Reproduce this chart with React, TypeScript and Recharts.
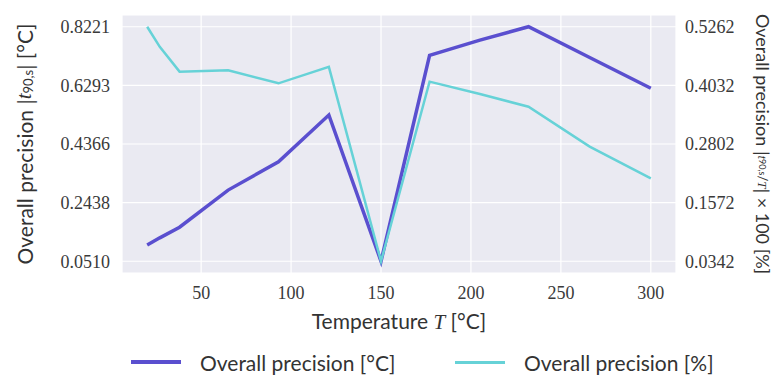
import { LineChart, Line, XAxis, YAxis, CartesianGrid, Label } from "recharts";

document.body.style.margin = "0";

// temperatures [°C]
const temps = [20, 27, 38, 65, 93, 121, 150, 177, 205, 232, 266, 300];
// overall precision [°C]
const precisionC = [0.1045, 0.128, 0.163, 0.285, 0.378, 0.532, 0.051, 0.728, 0.778, 0.8221, 0.721, 0.62];
// overall precision [%]
const precisionPct = [0.5262, 0.484, 0.432, 0.435, 0.4075, 0.442, 0.0342, 0.411, 0.385, 0.3585, 0.2746, 0.2082];

const xTicks = [50, 100, 150, 200, 250, 300];
const leftTicks = [0.051, 0.2438, 0.4366, 0.6293, 0.8221];
const rightTicks = [0.0342, 0.1572, 0.2802, 0.4032, 0.5262];

const PURPLE = "#5a4fcf";
const CYAN = "#66d2d7";
const TICK_FONT = { fontFamily: "Liberation Serif", fontSize: 18, fill: "#3a3a3a" };
const LABEL_FONT = "Lato";
const LABEL_SIZE = 21;

const data = temps.map((t, i) => ({
  t,
  degC: precisionC[i],
  pct: precisionPct[i],
}));

function XLabel({ viewBox }: any) {
  const cx = viewBox.x + viewBox.width / 2;
  return (
    <text x={cx} y={viewBox.y + 56} textAnchor="middle" fontFamily={LABEL_FONT} fontSize={LABEL_SIZE} fill="#333">
      Temperature{" "}
      <tspan fontFamily="Liberation Serif" fontStyle="italic">T</tspan> [°C]
    </text>
  );
}

function LeftLabel({ viewBox }: any) {
  const x = 24;
  const y = viewBox.y + viewBox.height / 2;
  return (
    <text x={x} y={y} transform={`rotate(-90 ${x} ${y})`} textAnchor="middle" dominantBaseline="central" fontFamily={LABEL_FONT} fontSize={LABEL_SIZE} fill="#333">
      Overall precision |
      <tspan fontFamily="Liberation Serif" fontStyle="italic">t</tspan>
      <tspan fontSize={13} dy={4}>90,s</tspan>
      <tspan dy={-4}>| [°C]</tspan>
    </text>
  );
}

function RightLabel({ viewBox }: any) {
  const x = 763;
  const y = viewBox.y + viewBox.height / 2;
  return (
    <text x={x} y={y} transform={`rotate(90 ${x} ${y})`} textAnchor="middle" dominantBaseline="central" fontFamily={LABEL_FONT} fontSize={18} fill="#333">
      Overall precision |
      <tspan fontFamily="Liberation Serif" fontStyle="italic" fontSize={13}>t</tspan>
      <tspan fontSize={9}>90,s</tspan>
      <tspan fontSize={13}>/</tspan>
      <tspan fontFamily="Liberation Serif" fontStyle="italic" fontSize={13}>T</tspan>| × 100 [%]
    </text>
  );
}

function LegendOverlay() {
  const items = [
    { label: "Overall precision [°C]", color: PURPLE, width: 4, left: 131 },
    { label: "Overall precision [%]", color: CYAN, width: 3, left: 455 },
  ];
  return (
    <>
      {items.map((it) => (
        <div
          key={it.label}
          style={{ position: "absolute", top: 348, left: it.left, display: "flex", alignItems: "center", height: 28 }}
        >
          <div style={{ width: 50, height: it.width, background: it.color }} />
          <span style={{ marginLeft: 19, fontFamily: LABEL_FONT, fontSize: LABEL_SIZE, color: "#333" }}>{it.label}</span>
        </div>
      ))}
    </>
  );
}

export default function App() {
  return (
    <div style={{ position: "relative", width: 777, height: 378, background: "#fff" }}>
      <LineChart width={777} height={378} data={data} margin={{ top: 15, right: 31, left: 52, bottom: 65 }}>
        <CartesianGrid yAxisId="left" fill="#eaeaf2" stroke="#ffffff" strokeWidth={1.2} strokeDasharray="" />
        <XAxis
          dataKey="t"
          type="number"
          domain={[6, 314]}
          ticks={xTicks}
          axisLine={false}
          tickLine={false}
          tickSize={0}
          tickMargin={13}
          height={40}
          tick={TICK_FONT}
        >
          <Label content={(p: any) => <XLabel {...p} />} />
        </XAxis>
        <YAxis
          yAxisId="left"
          domain={[0.0124, 0.8607]}
          ticks={leftTicks}
          tickFormatter={(v: number) => v.toFixed(4)}
          axisLine={false}
          tickLine={false}
          tickSize={0}
          tickMargin={12}
          width={70}
          tick={TICK_FONT}
        >
          <Label content={(p: any) => <LeftLabel {...p} />} />
        </YAxis>
        <YAxis
          yAxisId="right"
          orientation="right"
          domain={[0.0096, 0.5508]}
          ticks={rightTicks}
          tickFormatter={(v: number) => v.toFixed(4)}
          axisLine={false}
          tickLine={false}
          tickSize={0}
          tickMargin={9}
          width={70}
          tick={TICK_FONT}
        >
          <Label content={(p: any) => <RightLabel {...p} />} />
        </YAxis>
        <Line yAxisId="left" dataKey="degC" stroke={PURPLE} strokeWidth={3.5} dot={false} type="linear" isAnimationActive={false} />
        <Line yAxisId="right" dataKey="pct" stroke={CYAN} strokeWidth={2.5} dot={false} type="linear" isAnimationActive={false} />
      </LineChart>
      <LegendOverlay />
    </div>
  );
}
